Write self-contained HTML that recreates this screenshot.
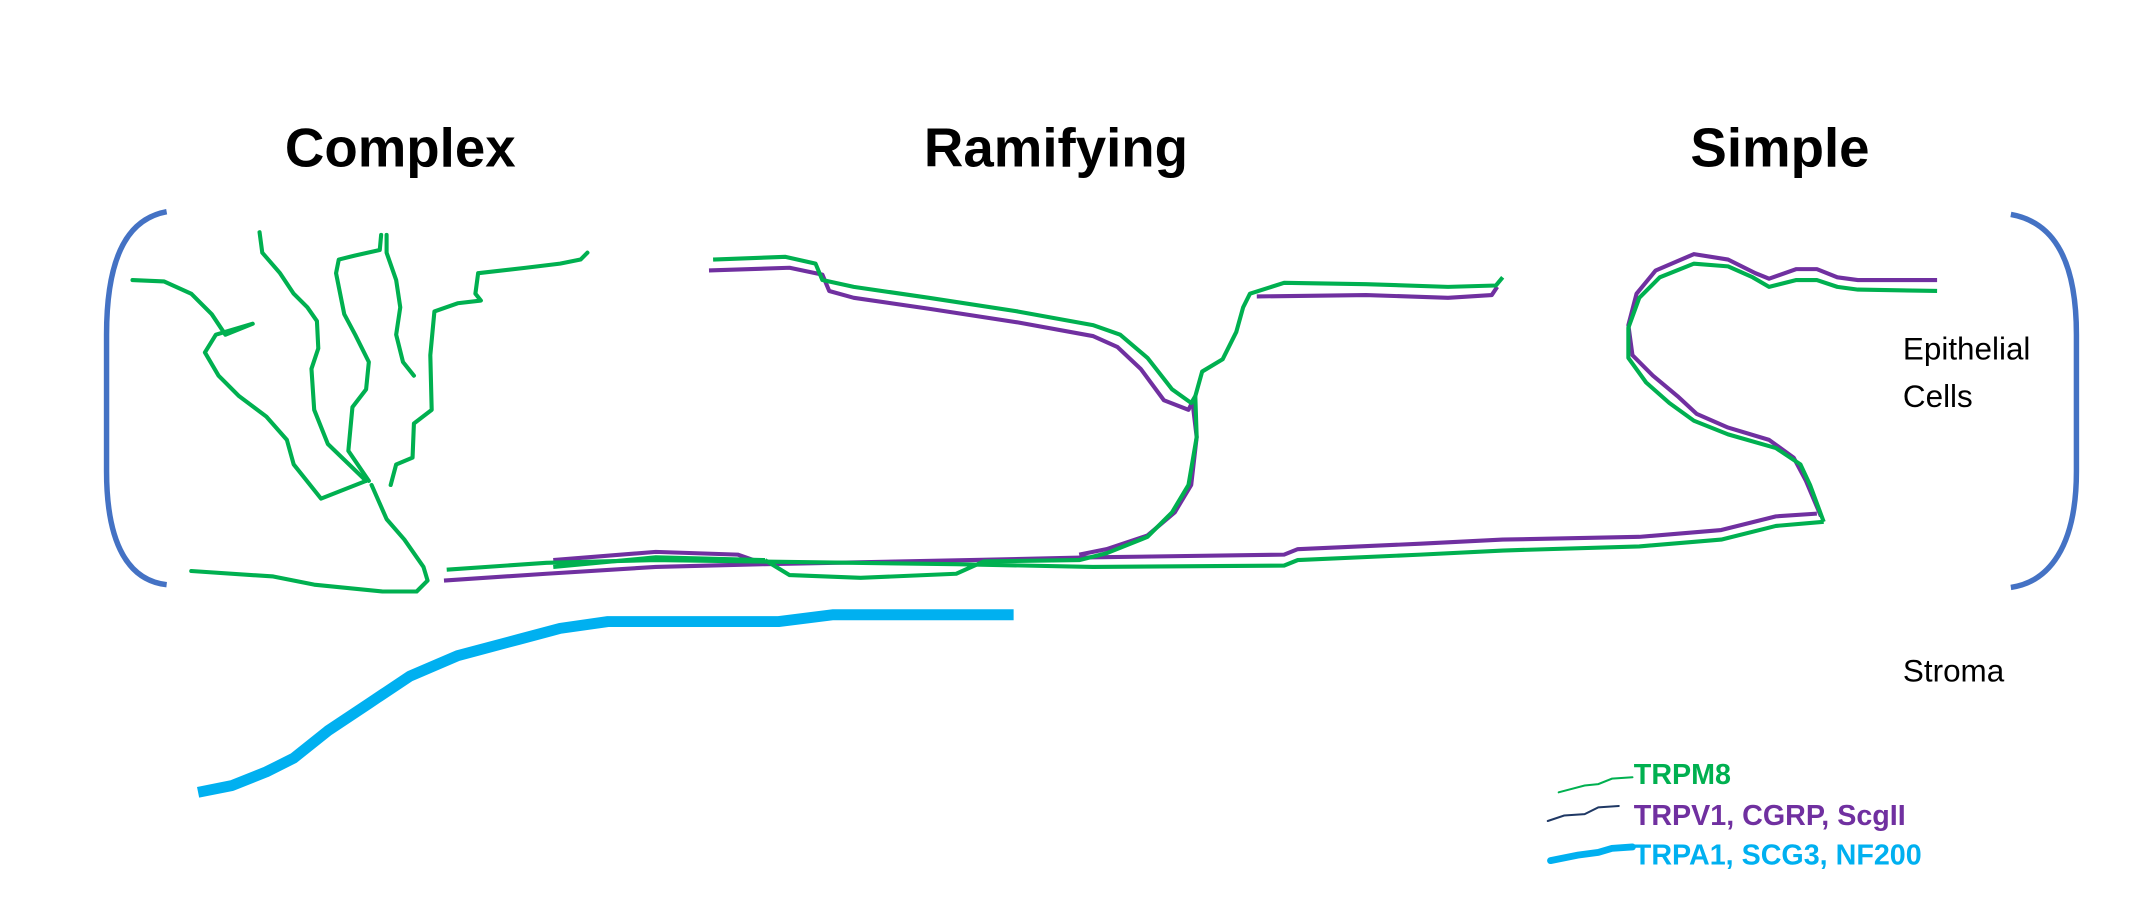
<!DOCTYPE html>
<html><head><style>
html,body{margin:0;padding:0;background:#fff;}
svg{display:block;}
</style></head><body>
<svg width="2142" height="924" viewBox="0 0 1568 676.4" preserveAspectRatio="none" xmlns="http://www.w3.org/2000/svg">
<g font-family="Liberation Sans, Arial, sans-serif" font-weight="bold" font-size="40" text-anchor="middle" fill="#000">
<text x="293" y="122">Complex</text>
<text x="773" y="122">Ramifying</text>
<text x="1303" y="122">Simple</text>
</g>
<g fill="none" stroke="#4472C4" stroke-width="4">
<path d="M122,155 C95,160 78,185 78,245 L78,345 C78,400 95,425 122,428"/>
<path d="M1472,157 C1500,162 1520,185 1520,245 L1520,345 C1520,400 1500,426 1472,430"/>
</g>
<g font-family="Liberation Sans, Arial, sans-serif" font-size="23" fill="#000">
<text x="1393" y="263">Epithelial</text>
<text x="1393" y="298">Cells</text>
<text x="1393" y="499">Stroma</text>
</g>
<g fill="none" stroke="#00B050" stroke-width="3" stroke-linejoin="round" stroke-linecap="round">
<path d="M97,205 L120,206 L140,215 L155,230 L165,245 L185,237 L158,245 L150,258 L160,275 L175,290 L195,305 L210,322 L215,340 L235,365 L268,352"/>
<path d="M190,170 L192,185 L205,200 L215,215 L225,225 L232,235 L233,255 L228,270 L230,300 L240,325 L268,352"/>
<path d="M279,172 L278,183 L260,187 L248,190 L246,200 L252,230 L260,245 L270,265 L268,285 L258,298 L255,330 L270,352"/>
<path d="M283,172 L283,185 L290,205 L293,225 L290,245 L295,265 L303,275"/>
<path d="M430,185 L425,190 L410,193 L385,196 L350,200 L348,215 L352,220 L335,222 L318,228 L315,260 L316,300 L303,310 L302,335 L290,340 L286,355"/>
<path d="M272,355 L283,380 L296,395 L310,415 L313,425 L305,433 L280,433 L230,428 L200,422 L140,418"/>
</g>
<g fill="none" stroke="#7030A0" stroke-width="3" stroke-linejoin="round">
<path d="M519,198 L578,196 L602,201 L607,213 L625,218 L680,226 L745,236 L800,246 L818,254 L835,270 L852,293 L870,300 L875,290"/>
<path d="M920,217 L1000,216 L1060,218 L1092,216 L1096,210"/>
<path d="M873,295 L876,320 L872,355 L860,375 L840,392 L810,402 L790,406"/>
<path d="M325,425 L400,420 L480,415 L560,413 L710,410 L800,408 L940,406 L950,402 L1040,398 L1100,395 L1200,393 L1260,388 L1300,378 L1330,376"/>
<path d="M405,410 L480,404 L540,406 L560,413"/>
<path d="M1333,378 L1322,352 L1313,335 L1295,322 L1265,313 L1242,303 L1228,290 L1210,275 L1195,260 L1192,238 L1198,215 L1212,198 L1240,186 L1265,190 L1285,200 L1295,204 L1315,197 L1330,197 L1345,203 L1360,205 L1418,205"/>
</g>
<g fill="none" stroke="#00B050" stroke-width="3" stroke-linejoin="round">
<path d="M522,190 L575,188 L597,193 L602,205 L625,210 L680,218 L745,228 L800,238 L820,245 L840,262 L858,285 L872,295 L875,290 L880,272 L895,263 L905,243 L910,225 L915,215 L940,207 L1000,208 L1060,210 L1095,209 L1100,203"/>
<path d="M875,290 L876,320 L870,355 L858,375 L840,393 L810,405 L790,410 L720,411 L700,420 L630,423 L578,421 L560,410"/>
<path d="M327,417 L400,412 L480,410 L700,413 L800,415 L940,414 L950,410 L1040,406 L1100,403 L1200,400 L1260,395 L1300,385 L1335,382"/>
<path d="M405,415 L480,408 L560,410"/>
<path d="M1335,382 L1325,355 L1318,340 L1300,328 L1265,318 L1240,308 L1222,295 L1205,280 L1192,262 L1192,240 L1200,218 L1215,203 L1240,193 L1265,195 L1283,203 L1295,210 L1315,205 L1330,205 L1345,210 L1360,212 L1418,213"/>
</g>
<path d="M145,580 L170,575 L195,565 L215,555 L240,535 L270,515 L300,495 L335,480 L380,468 L410,460 L445,455 L570,455 L610,450 L680,450 L742,450" fill="none" stroke="#00B0F0" stroke-width="8" stroke-linejoin="round"/>
<g fill="none" stroke-linecap="round">
<path d="M1141,580 L1160,575 L1170,574 L1180,570 L1195,569" stroke="#00B050" stroke-width="1.5"/>
<path d="M1133,601 L1145,597 L1160,596 L1170,591 L1185,590" stroke="#1F3864" stroke-width="1.5"/>
<path d="M1135,630 L1155,626 L1170,624 L1180,621 L1195,620" stroke="#00B0F0" stroke-width="5"/>
</g>
<g font-family="Liberation Sans, Arial, sans-serif" font-weight="bold" font-size="21">
<text x="1196" y="574" fill="#00B050">TRPM8</text>
<text x="1196" y="604" fill="#7030A0">TRPV1, CGRP, ScgII</text>
<text x="1196" y="633" fill="#00B0F0">TRPA1, SCG3, NF200</text>
</g>
</svg>
</body></html>
